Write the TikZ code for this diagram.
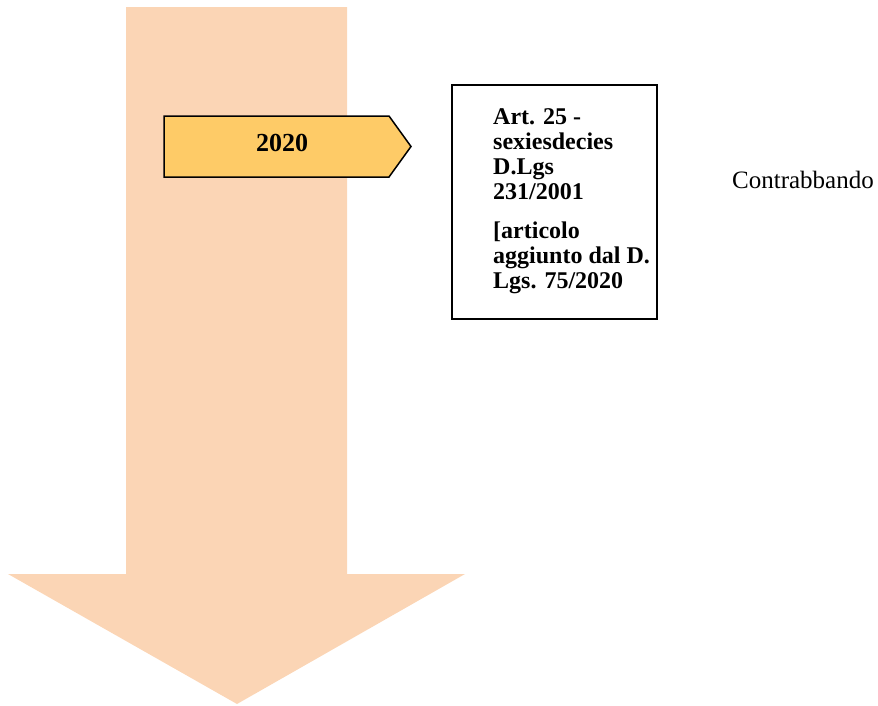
\documentclass[tikz,border=0pt]{standalone}
\usepackage{fontspec}
\setmainfont{Liberation Serif}
\usepackage{xcolor}
\usetikzlibrary{positioning}

\definecolor{shaftorange}{HTML}{FBD5B5}
\definecolor{yearyellow}{HTML}{FECB67}

\tikzset{
  yeartxt/.style={font=\fontsize{26}{30}\selectfont\bfseries, inner sep=0pt},
  lawbox/.style={draw=black, line width=1.5pt, fill=white, minimum width=205, minimum height=234, inner sep=0pt},
  lawtext/.style={font=\fontsize{24}{25}\selectfont\bfseries, align=left, inner sep=0pt},
  crimetxt/.style={font=\fontsize{25}{30}\selectfont, inner sep=0pt}
}

\begin{document}
\begin{tikzpicture}[x=1pt,y=-1pt,line join=miter]
  \useasboundingbox (0,0) rectangle (878,705);

  % big down arrow
  \fill[shaftorange] (126,7) -- (347,7) -- (347,574) -- (465,574)
    -- (237,704) -- (8,574) -- (126,574) -- cycle;

  % year tag
  \filldraw[fill=yearyellow, draw=black, line width=1.5pt]
    (164,116) -- (389,116) -- (411,146.5) -- (389,177) -- (164,177) -- cycle;
  \node[yeartxt] (anno) at (282,143) {2020};

  % law box
  \node[lawbox] (box) at (554.5,202) {};
  \node[lawtext, anchor=north west] (lawtxt) at (493,108)
    {Art. 25 -\\ sexiesdecies\\ D.Lgs\\ 231/2001\\[14pt]
     [articolo\\ aggiunto dal D.\\ Lgs. 75/2020};

  \node[crimetxt] (reato) at (803,180) {Contrabbando};
\end{tikzpicture}
\end{document}
